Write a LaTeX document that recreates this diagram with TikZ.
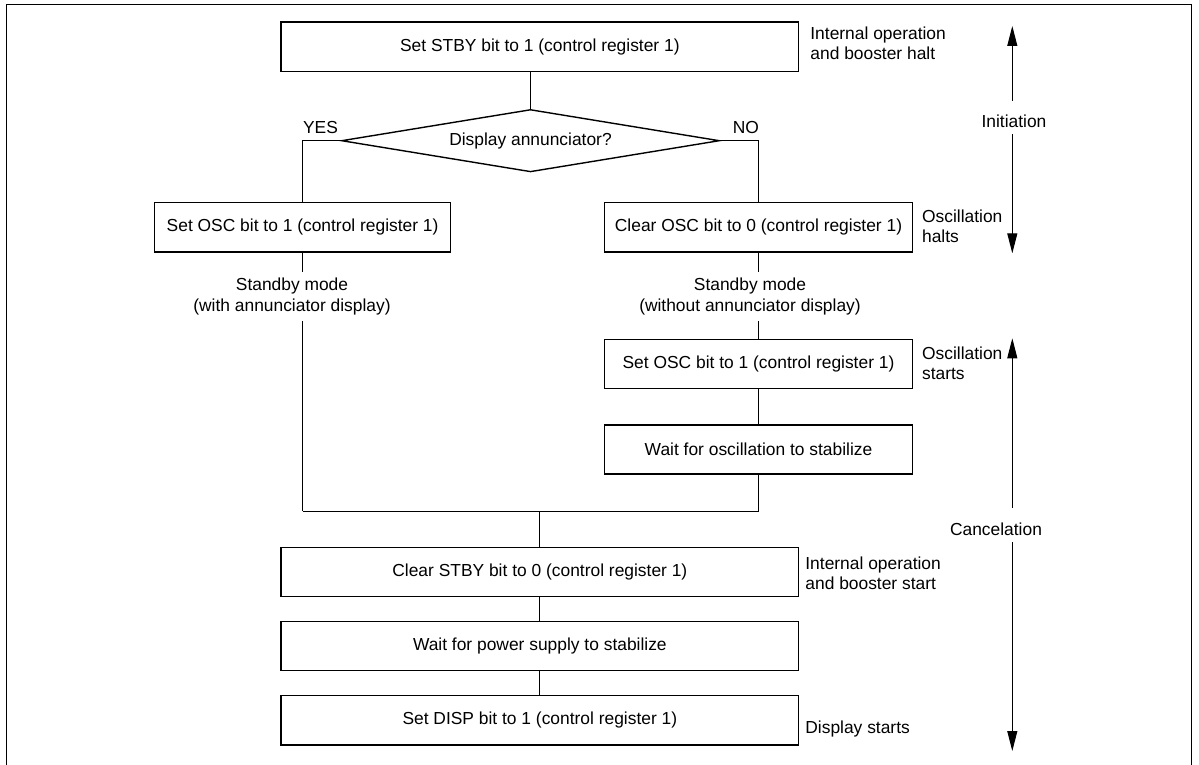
\documentclass[tikz,border=0pt]{standalone}
\usepackage{fontspec}
\setmainfont{Liberation Sans}
\usetikzlibrary{shapes.geometric,arrows.meta,calc}
\begin{document}
\begin{tikzpicture}[x=0.5pt,y=-0.5pt,
  every node/.style={font=\fontsize{8.7}{9.9}\selectfont},
  box/.style={draw,line width=0.7pt,inner sep=0pt,minimum height=24.6pt},
  wide/.style={box,minimum width=258.85pt},
  narrowL/.style={box,minimum width=148.1pt},
  narrowR/.style={box,minimum width=154.2pt},
  conn/.style={line width=0.5pt},
  lbl/.style={anchor=west,align=left,inner sep=0pt},
  mid/.style={align=center,inner sep=0pt},
  sb/.style={align=center,inner xsep=0pt,inner ysep=2.7pt,font=\fontsize{8.7}{10.6}\selectfont},
  span/.style={line width=0.5pt,-{Triangle[length=10pt,width=5pt]}}
]
\useasboundingbox (0,0) rectangle (1199,765);
% frame
\draw[line width=0.7pt] (6.7,765) -- (6.7,4.4) -- (1191.7,4.4) -- (1191.7,765);

% flow nodes
\node[wide] (stby) at (539.85,46.8) {Set STBY bit to 1 (control register 1)};
\node[draw,diamond,aspect=6,minimum width=189pt,minimum height=31.2pt,inner sep=0pt,line width=0.7pt] (dia) at (530.5,140.7) {Display annunciator?};
\node[mid] (yes) at (320.5,128) {YES};
\node[mid] (no) at (745.8,127.7) {NO};
\node[narrowL] (oscL) at (302.6,227.2) {Set OSC bit to 1 (control register 1)};
\node[narrowR] (oscR) at (758.5,227.2) {Clear OSC bit to 0 (control register 1)};
\node[sb] (sbL) at (292,296.5) {Standby mode\\(with annunciator display)};
\node[sb] (sbR) at (750,296.5) {Standby mode\\(without annunciator display)};
\node[narrowR] (osc2) at (758.5,363.8) {Set OSC bit to 1 (control register 1)};
\node[narrowR] (wosc) at (758.5,449.5) {Wait for oscillation to stabilize};
\coordinate (mL) at (302.6,511);
\coordinate (mR) at (758.5,511);
\coordinate (mC) at (539.85,511);
\node[wide] (clr) at (539.85,571.8) {Clear STBY bit to 0 (control register 1)};
\node[wide] (pwr) at (539.85,646) {Wait for power supply to stabilize};
\node[wide] (disp) at (539.85,720.2) {Set DISP bit to 1 (control register 1)};

% side labels
\node[lbl] (l1) at (810,43) {Internal operation\\and booster halt};
\node[lbl] (l2) at (921.7,226.4) {Oscillation\\halts};
\node[lbl] (l3) at (921.7,363) {Oscillation\\starts};
\node[lbl] (l4) at (805,573) {Internal operation\\and booster start};
\node[lbl] (l5) at (805,728.5) {Display starts};

% connectors
\draw[conn] (stby.south -| dia.north) -- (dia.north);
\draw[conn] (dia.west) -| (oscL.north);
\draw[conn] (dia.east) -| (oscR.north);
\draw[conn] (oscL.south) -- (oscL.south |- sbL.north);
\draw[conn] (sbL.south -| oscL.south) -- (mL);
\draw[conn] (oscR.south) -- (oscR.south |- sbR.north);
\draw[conn] (sbR.south -| oscR.south) -- (osc2.north);
\draw[conn] (osc2.south) -- (wosc.north);
\draw[conn] (wosc.south) -- (mR);
\draw[conn] (mL) -- (mR);
\draw[conn] (mC) -- (clr.north);
\draw[conn] (clr.south) -- (pwr.north);
\draw[conn] (pwr.south) -- (disp.north);

% phase arrows
\coordinate (iTop) at (1012.3,26);
\coordinate (iBot) at (1012.3,253.3);
\node[inner xsep=0pt,inner ysep=3pt] (init) at (1014,121.7) {Initiation};
\draw[span] ($(init.north -| iTop)+(0,-8)$) -- (iTop);
\draw[span] (init.south -| iBot) -- (iBot);
\coordinate (cTop) at (1012.3,338.3);
\coordinate (cBot) at (1012.3,751);
\node[inner xsep=0pt,inner ysep=3.2pt] (canc) at (996,529) {Cancelation};
\draw[span] ($(canc.north -| cTop)+(0,-8)$) -- (cTop);
\draw[span] (canc.south -| cBot) -- (cBot);
\end{tikzpicture}
\end{document}
